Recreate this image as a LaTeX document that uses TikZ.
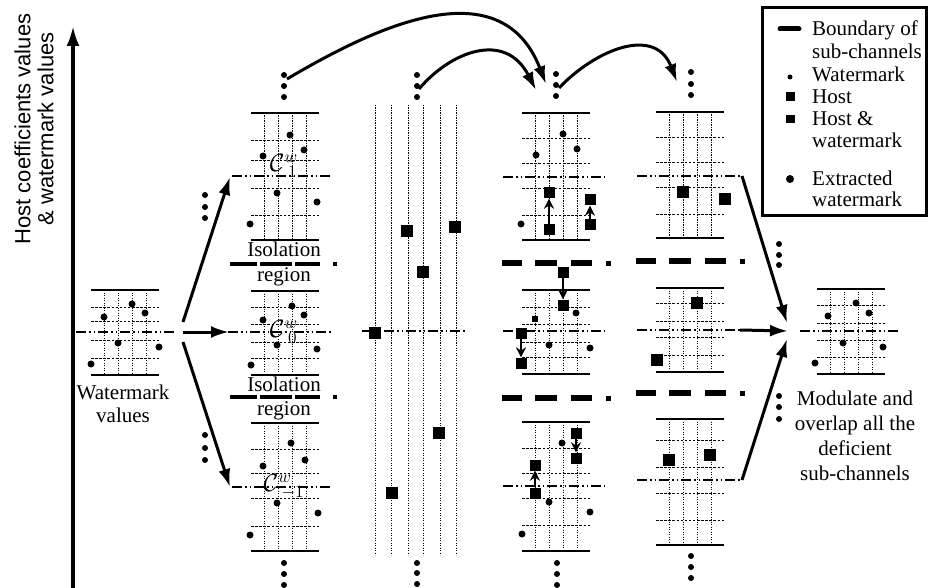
\documentclass[tikz,border=0pt]{standalone}
\usepackage{fontspec}
\setmainfont{Liberation Serif}
\setsansfont{Liberation Sans}
\usetikzlibrary{arrows.meta}
\tikzset{
  bar/.style={line width=2pt},
  vdot/.style={line width=0.9pt, dash pattern=on 1.2pt off 1.3pt},
  hdot/.style={line width=0.9pt, dash pattern=on 2.5pt off 1.6pt},
  cline/.style={line width=1.2pt, dash pattern=on 10pt off 3pt on 1.5pt off 3pt on 1.5pt off 3pt},
  bnd/.style={line width=5.5pt},
  hsq/.style={rectangle, fill=black, inner sep=0pt, minimum size=12pt},
  msq/.style={rectangle, fill=black, inner sep=0pt, minimum size=11pt},
  bigarrow/.style={line width=3pt, -{Latex[length=18pt,width=12pt]}},
  smallarrow/.style={line width=2.5pt, -{Stealth[length=10pt,width=10pt]}},
  lbl/.style={font=\fontsize{21}{23}\selectfont},
  clbl/.style={font=\fontsize{17}{19}\selectfont, inner sep=0pt}
}
\newcommand{\subblk}[4]{%
  \draw[bar] ({#1-34},#2) -- ({#1+34},#2);
  \draw[bar] ({#1-34},#3) -- ({#1+34},#3);
  \foreach \dx in {-21,-7,7,21}{\draw[vdot] ({#1+\dx},#2) -- ({#1+\dx},#3);}
  \foreach \hy in {#4}{\draw[hdot] ({#1-34},\hy) -- ({#1+34},\hy);}
}
\newcommand{\threedots}[4]{%
  \foreach \yy in {#2,#3,#4}{\fill ({#1},\yy) circle (3pt);}
}
\newcommand{\bndline}[2]{%
  \draw[bnd] ({#1},#2) -- ({#1+20},#2);
  \draw[bnd] ({#1+33},#2) -- ({#1+55},#2);
  \draw[bnd] ({#1+69},#2) -- ({#1+90},#2);
  \fill ({#1+104},{#2-2.5}) rectangle ({#1+109},{#2+2.5});
}
\begin{document}
\begin{tikzpicture}[x=1pt,y=-1pt]
\useasboundingbox (0,0) rectangle (929,588);

% axis
\coordinate (axb) at (73,588);
\coordinate (axt) at (73,26);
\draw[line width=3.5pt,-{Latex[length=20pt,width=13pt]}] (axb) -- (axt);
\node[rotate=90, align=center, font=\sffamily\fontsize{22}{23}\selectfont] (ylab) at (34,129)
  {Host coefficients values\\\& watermark values};

% left watermark block
\subblk{125}{290}{375}{307,321,340,358}
\draw[cline] (76,332) -- (177,332);
\foreach \p in {(104,317),(132,304),(145,313),(118,343),(159,347),(91,364)} \fill \p circle (3.5pt);
\node[lbl, align=center] (wmv) at (123,403.5) {Watermark\\values};

% column 2
\subblk{285}{113}{240}{140,160,188,215}
\subblk{285}{291}{375}{307,324,342,358}
\subblk{285}{423}{551}{449,473,498,526}
\draw[cline] (232,176) -- (333,176);
\draw[cline] (228,332) -- (333,332);
\draw[cline] (232,487) -- (333,487);
\foreach \p in {(290,135),(304,150),(263,156),(277,193),(317,202),(250,224),
                (292,306),(304,315),(263,320),(277,345),(317,349),(251,365),
                (291,443),(305,460),(263,466),(277,503),(318,513),(250,535)} \fill \p circle (3.5pt);
\node[clbl] (c1) at (284,166) {\scalebox{1.45}{$\mathcal{C}^{w}_{\;1}$}};
\node[clbl] (c0) at (284,332) {\scalebox{1.45}{$\mathcal{C}^{w}_{\;0}$}};
\node[clbl] (cm1) at (284,487) {\scalebox{1.45}{$\mathcal{C}^{w}_{\;-1}$}};
\node[lbl] (iso1) at (284,249) {Isolation};
\node[lbl] (reg1) at (284,277) {region};
\node[lbl] (iso2) at (284,384) {Isolation};
\node[lbl] (reg2) at (284,411) {region};
\foreach \yy in {264,397}{
  \draw[line width=3.5pt] (230,\yy) -- (257,\yy);
  \draw[line width=3.5pt] (260,\yy) -- (292,\yy);
  \draw[line width=3.5pt] (295,\yy) -- (320,\yy);
  \fill (333,\yy-2) rectangle (337,\yy+2);
}
\threedots{284}{75}{86}{97}
\threedots{284}{563}{574}{585}
\threedots{205}{195}{207}{218}
\threedots{205}{435}{448}{460}

% column 3
\foreach \xx in {375,391,408,423,440,456}{\draw[vdot] (\xx,105) -- (\xx,555);}
\draw[cline] (362,331) -- (465,331);
\node[hsq] (h1) at (407,231) {};
\node[hsq] (h2) at (455,227) {};
\node[hsq] (h3) at (423,272) {};
\node[hsq] (h4) at (375,333) {};
\node[hsq] (h5) at (439,433) {};
\node[hsq] (h6) at (392,493) {};
\threedots{417}{75}{86}{97}
\threedots{417}{563}{573}{584}

% column 4
\subblk{556}{113}{240}{138,163,188,215}
\subblk{556}{290}{374}{307,324,342,357}
\subblk{556}{422}{551}{448,473,498,525}
\draw[cline] (503,177) -- (605,177);
\draw[cline] (503,331) -- (605,331);
\draw[cline] (503,486) -- (605,486);
\bndline{502}{263}
\bndline{502}{398}
\foreach \p in {(563,134),(577,149),(536,155),(521,224),
                (576,313),(549,345),(590,348),
                (562,443),(549,502),(590,512),(522,534)} \fill \p circle (3.5pt);
\fill (532,316) rectangle (538,322);
\node[msq] (qa) at (549,193) {};
\node[msq] (qb) at (549,230) {};
\node[msq] (qc) at (590,200) {};
\node[msq] (qd) at (590,225) {};
\draw[smallarrow] (qb.north) -- (qa.south);
\draw[smallarrow] (qd.north) -- (qc.south);
\node[msq] (qe) at (563,272) {};
\node[msq] (qf) at (563,305) {};
\node[msq] (qg) at (521,333) {};
\node[msq] (qh) at (521,363) {};
\draw[smallarrow] (qe.south) -- (qf.north);
\draw[smallarrow] (qg.south) -- (qh.north);
\node[msq] (qi) at (576,433) {};
\node[msq] (qj) at (576,458) {};
\node[msq] (qk) at (535,465) {};
\node[msq] (ql) at (535,493) {};
\draw[smallarrow] (qi.south) -- (qj.north);
\draw[smallarrow] (ql.north) -- (qk.south);
\threedots{556}{74}{85}{96}
\threedots{557}{563}{574}{585}

% column 5
\subblk{690}{112}{238}{137,162,187,214}
\subblk{690}{288}{372}{303,321,337,355}
\subblk{690}{419}{545}{440,467,493,520}
\draw[cline] (637,176) -- (742,176);
\draw[cline] (637,330) -- (740,330);
\draw[cline] (637,480) -- (742,480);
\bndline{636}{261}
\bndline{636}{393}
\node[hsq] (p1) at (683,192) {};
\node[hsq] (p2) at (725,199) {};
\node[hsq] (p3) at (697,303) {};
\node[hsq] (p4) at (657,360) {};
\node[hsq] (p5) at (669,460) {};
\node[hsq] (p6) at (710,455) {};
\threedots{691}{72}{84}{95}
\threedots{691}{556}{567}{578}
\threedots{779}{244}{255}{265}
\threedots{779}{396}{407}{419}

% right block
\subblk{851}{289}{374}{305,323,340,357}
\draw[cline] (800,331) -- (898,331);
\foreach \p in {(828,316),(856,303),(869,313),(843,343),(883,347),(815,363)} \fill \p circle (3.5pt);
\node[lbl, align=center, font=\fontsize{21}{25}\selectfont] (mod) at (855,435.5)
  {Modulate and\\overlap all the\\deficient\\sub-channels};

% left fan arrows
\coordinate (fu) at (183,322);
\coordinate (fm) at (183,332);
\coordinate (fd) at (183,342);
\coordinate (t2t) at (230,177);
\coordinate (t2m) at (229,332);
\coordinate (t2b) at (230,487);
\draw[bigarrow] (fu) -- (t2t);
\draw[bigarrow] (fm) -- (t2m);
\draw[bigarrow] (fd) -- (t2b);

% right fan arrows
\coordinate (r5t) at (742,176);
\coordinate (r5m) at (740,330);
\coordinate (r5b) at (742,480);
\coordinate (cvt) at (787,323);
\coordinate (cvm) at (788,331);
\coordinate (cvb) at (787,339);
\draw[bigarrow] (r5t) -- (cvt);
\draw[bigarrow] (r5m) -- (cvm);
\draw[bigarrow] (r5b) -- (cvb);

% top arcs
\coordinate (a1s) at (287,79);
\coordinate (a1e) at (546,84);
\coordinate (a2s) at (419,89);
\coordinate (a2e) at (536,90);
\coordinate (a3s) at (559,88);
\coordinate (a3e) at (677,82);
\draw[bigarrow] (a1s) .. controls (370,30) and (500,-35) .. (a1e);
\draw[bigarrow] (a2s) .. controls (450,52) and (505,30) .. (a2e);
\draw[bigarrow] (a3s) .. controls (595,50) and (655,25) .. (a3e);

% legend
\draw[line width=3pt] (762,8) rectangle (926,216);
\draw[line width=5pt, line cap=round] (780,29) -- (799,29);
\fill (790,77) circle (2.5pt);
\fill (785.5,92.5) rectangle (794.5,101.5);
\fill (785.5,115) rectangle (794.5,123);
\fill (790,179) circle (4pt);
\node[lbl, anchor=base west, inner sep=0pt] (lg1) at (812,36) {Boundary of};
\node[lbl, anchor=base west, inner sep=0pt] (lg2) at (812,59) {sub-channels};
\node[lbl, anchor=base west, inner sep=0pt] (lg3) at (812,82) {Watermark};
\node[lbl, anchor=base west, inner sep=0pt] (lg4) at (812,104) {Host};
\node[lbl, anchor=base west, inner sep=0pt] (lg5) at (812,126) {Host \&};
\node[lbl, anchor=base west, inner sep=0pt] (lg6) at (812,148) {watermark};
\node[lbl, anchor=base west, inner sep=0pt] (lg7) at (812,186) {Extracted};
\node[lbl, anchor=base west, inner sep=0pt] (lg8) at (812,207) {watermark};
\end{tikzpicture}
\end{document}
